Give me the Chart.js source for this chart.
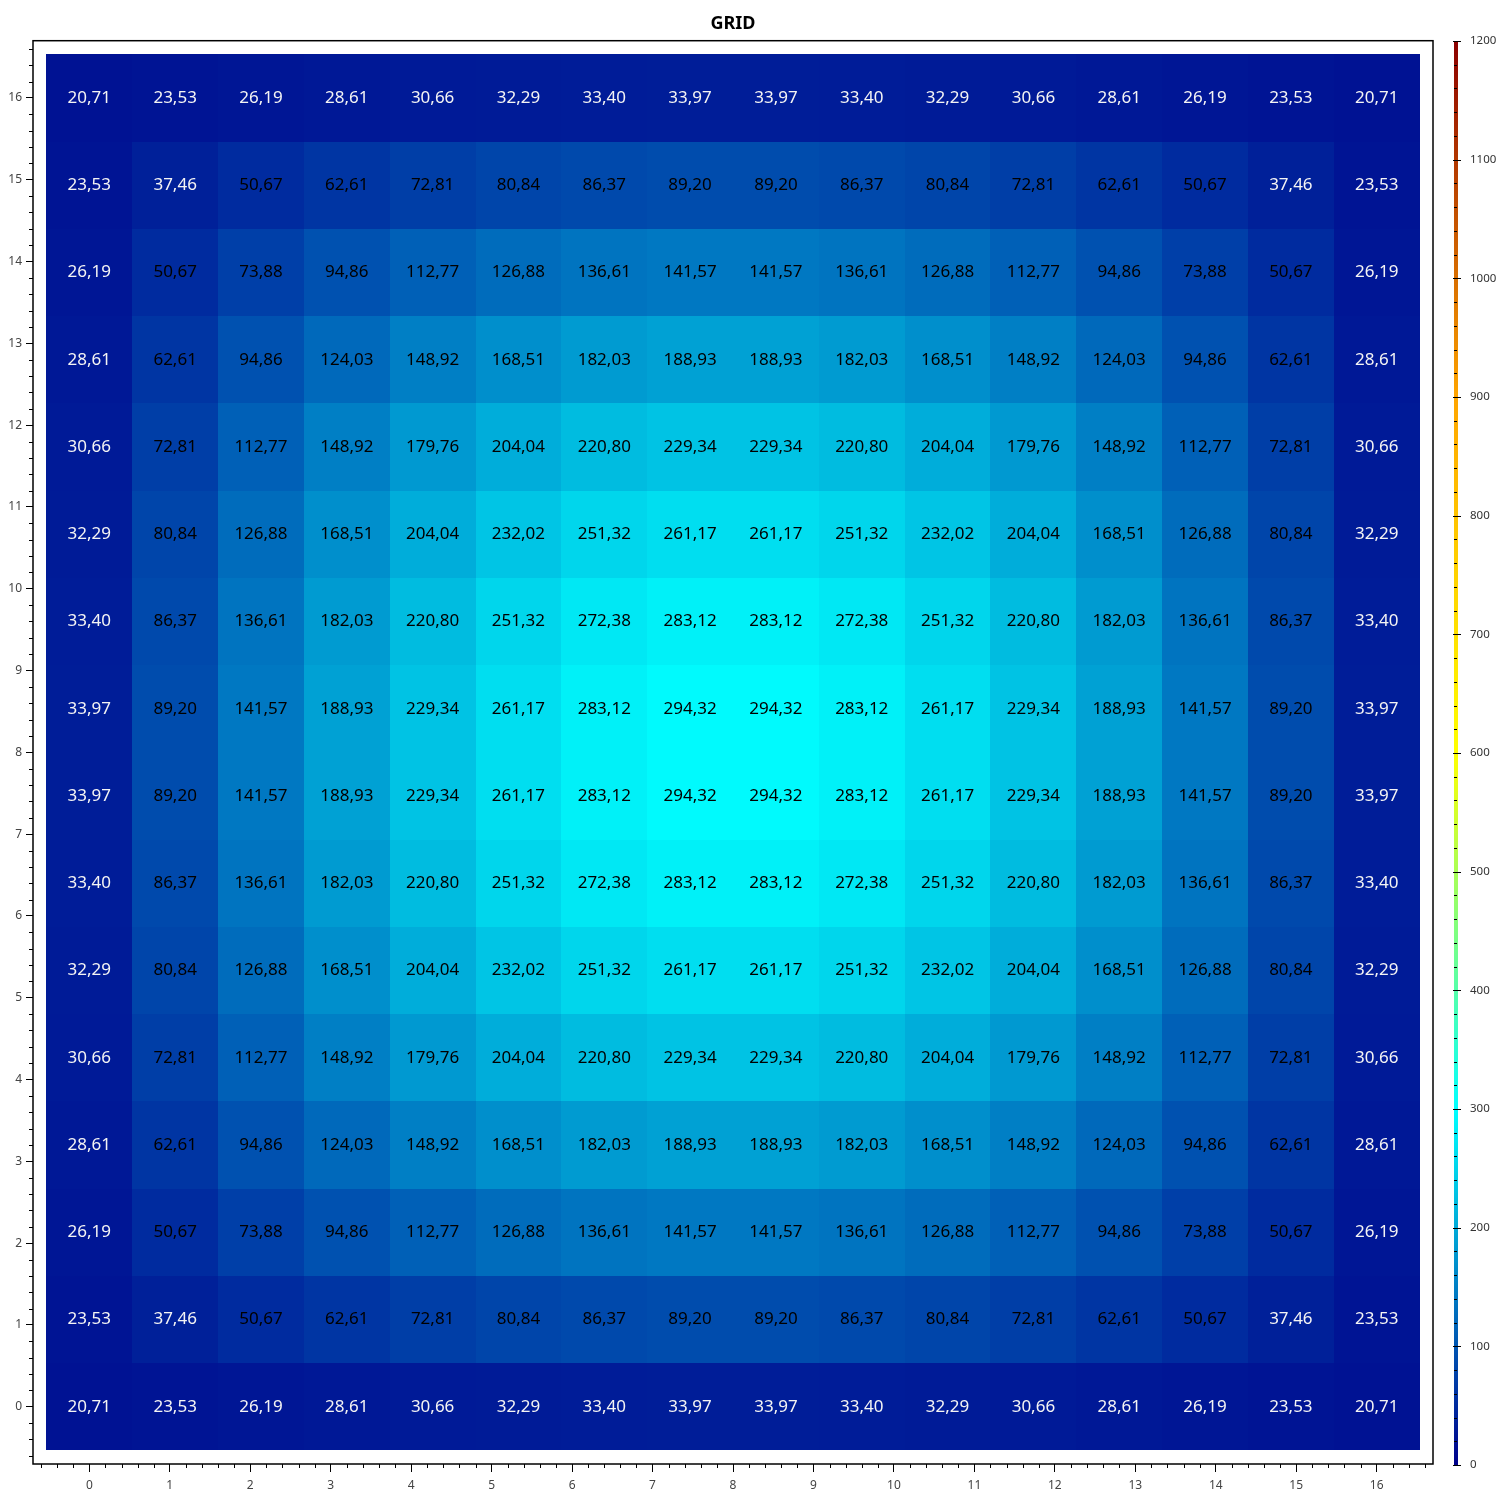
<!DOCTYPE html>
<html>
<head>
<meta charset="utf-8">
<title>GRID</title>
<script src="https://cdn.jsdelivr.net/npm/chart.js@4.4.0/dist/chart.umd.min.js"></script>
<style>
  body { margin: 0; background: #fff; }
  #wrap { position: relative; width: 1500px; height: 1500px; }
  #main { position: absolute; left: 0; top: 0; }
  #bar { position: absolute; left: 1440px; top: 0; }
</style>
</head>
<body>
<div id="wrap">
  <canvas id="main" width="1440" height="1500"></canvas>
  <canvas id="bar" width="60" height="1500"></canvas>
</div>
<script>
// grid values, bottom row (y = 0) first
const values = [
  [20.71, 23.53, 26.19, 28.61, 30.66, 32.29, 33.40, 33.97, 33.97, 33.40, 32.29, 30.66, 28.61, 26.19, 23.53, 20.71],
  [23.53, 37.46, 50.67, 62.61, 72.81, 80.84, 86.37, 89.20, 89.20, 86.37, 80.84, 72.81, 62.61, 50.67, 37.46, 23.53],
  [26.19, 50.67, 73.88, 94.86, 112.77, 126.88, 136.61, 141.57, 141.57, 136.61, 126.88, 112.77, 94.86, 73.88, 50.67, 26.19],
  [28.61, 62.61, 94.86, 124.03, 148.92, 168.51, 182.03, 188.93, 188.93, 182.03, 168.51, 148.92, 124.03, 94.86, 62.61, 28.61],
  [30.66, 72.81, 112.77, 148.92, 179.76, 204.04, 220.80, 229.34, 229.34, 220.80, 204.04, 179.76, 148.92, 112.77, 72.81, 30.66],
  [32.29, 80.84, 126.88, 168.51, 204.04, 232.02, 251.32, 261.17, 261.17, 251.32, 232.02, 204.04, 168.51, 126.88, 80.84, 32.29],
  [33.40, 86.37, 136.61, 182.03, 220.80, 251.32, 272.38, 283.12, 283.12, 272.38, 251.32, 220.80, 182.03, 136.61, 86.37, 33.40],
  [33.97, 89.20, 141.57, 188.93, 229.34, 261.17, 283.12, 294.32, 294.32, 283.12, 261.17, 229.34, 188.93, 141.57, 89.20, 33.97],
  [33.97, 89.20, 141.57, 188.93, 229.34, 261.17, 283.12, 294.32, 294.32, 283.12, 261.17, 229.34, 188.93, 141.57, 89.20, 33.97],
  [33.40, 86.37, 136.61, 182.03, 220.80, 251.32, 272.38, 283.12, 283.12, 272.38, 251.32, 220.80, 182.03, 136.61, 86.37, 33.40],
  [32.29, 80.84, 126.88, 168.51, 204.04, 232.02, 251.32, 261.17, 261.17, 251.32, 232.02, 204.04, 168.51, 126.88, 80.84, 32.29],
  [30.66, 72.81, 112.77, 148.92, 179.76, 204.04, 220.80, 229.34, 229.34, 220.80, 204.04, 179.76, 148.92, 112.77, 72.81, 30.66],
  [28.61, 62.61, 94.86, 124.03, 148.92, 168.51, 182.03, 188.93, 188.93, 182.03, 168.51, 148.92, 124.03, 94.86, 62.61, 28.61],
  [26.19, 50.67, 73.88, 94.86, 112.77, 126.88, 136.61, 141.57, 141.57, 136.61, 126.88, 112.77, 94.86, 73.88, 50.67, 26.19],
  [23.53, 37.46, 50.67, 62.61, 72.81, 80.84, 86.37, 89.20, 89.20, 86.37, 80.84, 72.81, 62.61, 50.67, 37.46, 23.53],
  [20.71, 23.53, 26.19, 28.61, 30.66, 32.29, 33.40, 33.97, 33.97, 33.40, 32.29, 30.66, 28.61, 26.19, 23.53, 20.71]
];
const xTicks = [0, 1, 2, 3, 4, 5, 6, 7, 8, 9, 10, 11, 12, 13, 14, 15, 16];
const yTicks = [0, 1, 2, 3, 4, 5, 6, 7, 8, 9, 10, 11, 12, 13, 14, 15, 16];
const cbTicks = [0, 100, 200, 300, 400, 500, 600, 700, 800, 900, 1000, 1100, 1200];
const cbMin = 0, cbMax = 1200;

const colorStops = [
  [0, [0, 0, 139]],
  [300, [0, 255, 255]],
  [600, [255, 255, 0]],
  [900, [255, 165, 0]],
  [1200, [139, 0, 0]]
];

Chart.defaults.font.family = "'Noto Sans', 'DejaVu Sans', sans-serif";
Chart.defaults.animation = false;

function colorFor(v) {
  for (let k = 1; k < colorStops.length; k++) {
    const [v0, c0] = colorStops[k - 1], [v1, c1] = colorStops[k];
    if (v <= v1 || k === colorStops.length - 1) {
      const t = Math.max(0, Math.min(1, (v - v0) / (v1 - v0)));
      const c = c0.map((a, i) => Math.round(a + (c1[i] - a) * t));
      return `rgb(${c[0]},${c[1]},${c[2]})`;
    }
  }
}

const fmt = v => v.toFixed(2).replace('.', ',');

// cells spread over the tick range
const nCols = values[0].length, nRows = values.length;
const stepX = (xTicks[xTicks.length - 1] - xTicks[0]) / (nCols - 1);
const stepY = (yTicks[yTicks.length - 1] - yTicks[0]) / (nRows - 1);
const cells = [];
values.forEach((row, j) => row.forEach((v, i) => cells.push({ x: xTicks[0] + i * stepX, y: yTicks[0] + j * stepY, v })));

const heatPlugin = {
  id: 'heat',
  beforeDatasetsDraw(chart) {
    const { ctx, scales: { x, y } } = chart;
    ctx.save();
    chart.data.datasets[0].data.forEach(c => {
      const l = Math.round(x.getPixelForValue(c.x - stepX / 2));
      const r = Math.round(x.getPixelForValue(c.x + stepX / 2));
      const t = Math.round(y.getPixelForValue(c.y + stepY / 2));
      const b = Math.round(y.getPixelForValue(c.y - stepY / 2));
      ctx.fillStyle = colorFor(c.v);
      ctx.fillRect(l, t, r - l, b - t);
    });
    ctx.font = "17px 'Noto Sans', sans-serif";
    ctx.textAlign = 'center';
    ctx.textBaseline = 'middle';
    chart.data.datasets[0].data.forEach(c => {
      ctx.fillStyle = c.v < 40 ? '#f4f4f4' : '#000';
      ctx.fillText(fmt(c.v), x.getPixelForValue(c.x), y.getPixelForValue(c.y));
    });
    ctx.restore();
  },
  afterDraw(chart) {
    const { ctx, chartArea: a, scales: { x, y } } = chart;
    ctx.save();
    ctx.strokeStyle = '#000';
    ctx.lineWidth = 1.5;
    ctx.strokeRect(a.left, a.top, a.right - a.left, a.bottom - a.top);
    // minor ticks
    ctx.lineWidth = 1;
    ctx.beginPath();
    for (let k = Math.ceil(x.min / 0.2); k <= Math.floor(x.max / 0.2); k++) {
      if (k % 5 === 0) continue;
      const px = Math.round(x.getPixelForValue(k * 0.2)) + 0.5;
      ctx.moveTo(px, a.bottom); ctx.lineTo(px, a.bottom + 4);
    }
    for (let k = Math.ceil(y.min / 0.2); k <= Math.floor(y.max / 0.2); k++) {
      if (k % 5 === 0) continue;
      const py = Math.round(y.getPixelForValue(k * 0.2)) + 0.5;
      ctx.moveTo(a.left, py); ctx.lineTo(a.left - 4, py);
    }
    ctx.stroke();
    ctx.restore();
  }
};

const axisCommon = {
  type: 'linear',
  grid: { drawOnChartArea: false, tickLength: 7, tickColor: '#000', tickWidth: 1 },
  border: { display: false },
  ticks: { font: { size: 12 }, color: '#444', callback: v => String(v) }
};

new Chart(document.getElementById('main'), {
  type: 'scatter',
  data: { datasets: [{ data: cells, pointRadius: 0, pointHoverRadius: 0 }] },
  options: {
    responsive: false,
    layout: { padding: { left: 0, right: 7, top: 0, bottom: 0 } },
    plugins: {
      legend: { display: false },
      tooltip: { enabled: false },
      title: {
        display: true, text: 'GRID', fullSize: false, color: '#000',
        font: { size: 18, weight: 'bold' }, padding: { top: 13, bottom: 6.1 }
      }
    },
    scales: {
      x: {
        ...axisCommon, position: 'bottom', min: -0.7, max: 16.7,
        grid: { ...axisCommon.grid, tickLength: 8 },
        ticks: { ...axisCommon.ticks, padding: 6, maxRotation: 0 },
        afterBuildTicks: s => { s.ticks = xTicks.map(v => ({ value: v })); },
        afterFit: s => { s.height = 36; }
      },
      y: {
        ...axisCommon, position: 'left', min: -0.7, max: 16.7,
        ticks: { ...axisCommon.ticks, padding: 4 },
        afterBuildTicks: s => { s.ticks = yTicks.map(v => ({ value: v })); },
        afterFit: s => { s.width = 33; }
      }
    }
  },
  plugins: [heatPlugin]
});

// colour bar
const cbTickPlugin = {
  id: 'cbTicks',
  afterDraw(chart) {
    const { ctx, chartArea: a, scales: { y } } = chart;
    ctx.save();
    ctx.strokeStyle = '#000';
    ctx.lineWidth = 1;
    ctx.beginPath();
    for (let v = cbMin; v <= cbMax; v += 20) {
      const py = Math.round(y.getPixelForValue(v)) + 0.5;
      if (v % 100 === 0) { ctx.moveTo(a.left - 1, py); ctx.lineTo(a.right + 3, py); }
      else { ctx.moveTo(a.left, py); ctx.lineTo(a.left + 3, py); }
    }
    ctx.stroke();
    ctx.restore();
  }
};

new Chart(document.getElementById('bar'), {
  type: 'bar',
  data: {
    labels: [''],
    datasets: [{
      data: [[cbMin, cbMax]],
      barPercentage: 1, categoryPercentage: 1, borderWidth: 0,
      backgroundColor: c => {
        const ch = c.chart, y = ch.scales.y;
        if (!ch.chartArea || !y) return '#00008b';
        const g = ch.ctx.createLinearGradient(0, y.getPixelForValue(cbMin), 0, y.getPixelForValue(cbMax));
        colorStops.forEach(([v, col]) => g.addColorStop((v - cbMin) / (cbMax - cbMin), `rgb(${col[0]},${col[1]},${col[2]})`));
        return g;
      }
    }]
  },
  options: {
    responsive: false,
    layout: { padding: { left: 14, right: 0, top: 41, bottom: 35 } },
    plugins: { legend: { display: false }, tooltip: { enabled: false } },
    scales: {
      x: { display: false },
      y: {
        position: 'right', min: cbMin, max: cbMax,
        grid: { display: false }, border: { display: false },
        ticks: { font: { size: 11.5 }, color: '#333', padding: 4, callback: v => String(v) },
        afterBuildTicks: s => { s.ticks = cbTicks.map(v => ({ value: v })); },
        afterFit: s => { s.width = 42; }
      }
    }
  },
  plugins: [cbTickPlugin]
});
</script>
</body>
</html>
